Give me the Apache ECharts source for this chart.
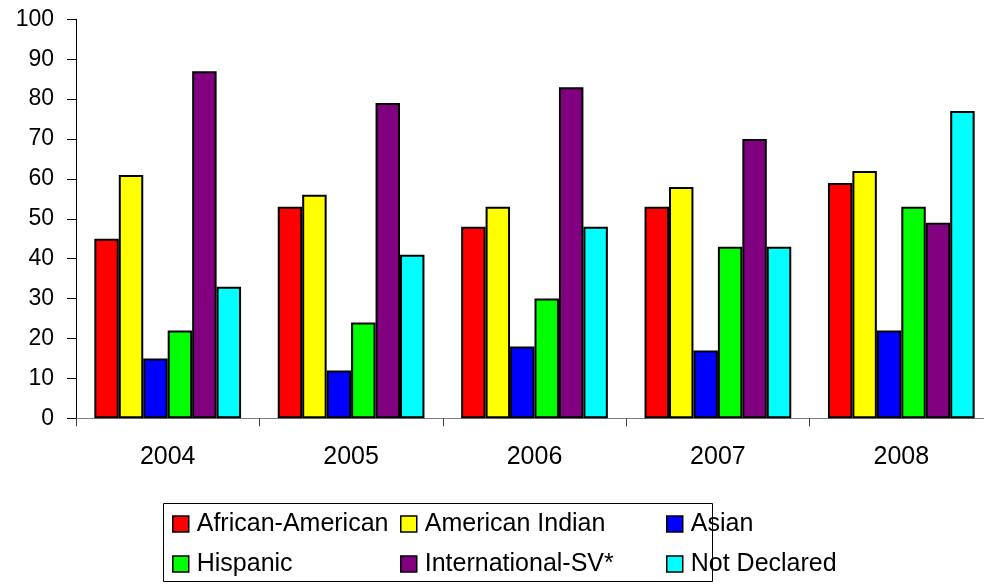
<!DOCTYPE html>
<html><head><meta charset="utf-8">
<script src="https://cdn.jsdelivr.net/npm/echarts@6/dist/echarts.min.js"></script>
<style>html,body{margin:0;padding:0;background:#fff;overflow:hidden}#c{width:1000px;height:584px}</style>
</head><body><div id="c"></div>
<script>
var categories = ['2004', '2005', '2006', '2007', '2008'];
var seriesNames = ['African-American', 'American Indian', 'Asian', 'Hispanic', 'International-SV*', 'Not Declared'];
var africanAmerican = [45, 53, 48, 53, 59];
var americanIndian = [61, 56, 53, 58, 62];
var asian = [15, 12, 18, 17, 22];
var hispanic = [22, 24, 30, 43, 53];
var international = [87, 79, 83, 70, 49];
var notDeclared = [33, 41, 48, 43, 77];
var colors = ['#FF0000', '#FFFF00', '#0000FF', '#00FF00', '#800080', '#00FFFF'];
var values = [africanAmerican, americanIndian, asian, hispanic, international, notDeclared];

var FONT = "'Liberation Sans', Arial, sans-serif";
var chart = echarts.init(document.getElementById('c'), null, {renderer: 'canvas'});

var series = values.map(function (v, i) {
  return {
    name: seriesNames[i], type: 'bar', data: v,
    barGap: '0%', barCategoryGap: '20%',
    itemStyle: {color: colors[i], borderColor: '#000', borderWidth: 2},
    emphasis: {disabled: true}
  };
});

function legendCol(names, left) {
  return {
    orient: 'vertical', left: left, top: 511, padding: 0,
    itemWidth: 16, itemHeight: 16, itemGap: 14, icon: 'rect',
    itemStyle: {borderColor: '#000', borderWidth: 1.5},
    data: names, selectedMode: false,
    textStyle: {fontFamily: FONT, fontSize: 25, color: '#000', lineHeight: 26, padding: [0, 0, 0, 3]}
  };
}

chart.setOption({
  animation: false,
  backgroundColor: '#fff',
  color: colors,
  grid: {left: 76, top: 19.3, width: 917, height: 399, containLabel: false},
  graphic: [{
    type: 'rect', left: 163, top: 503, z: -1,
    shape: {width: 549, height: 78},
    style: {fill: '#fff', stroke: '#000', lineWidth: 1}
  }],
  legend: [
    legendCol([seriesNames[0], seriesNames[3]], 172),
    legendCol([seriesNames[1], seriesNames[4]], 400),
    legendCol([seriesNames[2], seriesNames[5]], 666)
  ],
  xAxis: {
    type: 'category', data: categories, boundaryGap: true,
    axisLine: {lineStyle: {color: '#808080', width: 1}},
    axisTick: {show: true, length: 8, lineStyle: {color: '#404040'}},
    axisLabel: {fontFamily: FONT, fontSize: 25, color: '#000', margin: 26},
    splitLine: {show: false}
  },
  yAxis: {
    type: 'value', min: 0, max: 100, interval: 10,
    axisLine: {show: true, lineStyle: {color: '#000', width: 1}},
    axisTick: {show: true, length: 9, lineStyle: {color: '#000'}},
    axisLabel: {fontFamily: FONT, fontSize: 23, color: '#000', margin: 22},
    splitLine: {show: false}
  },
  series: series
});
</script></body></html>
